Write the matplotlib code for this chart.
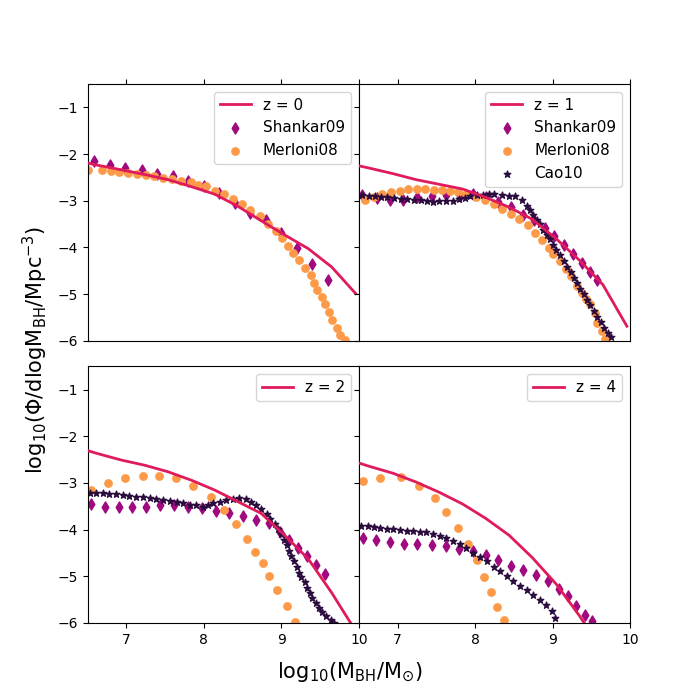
import matplotlib.pyplot as plt
import numpy as np

# model grid (log10 M_BH), spaced by log10(2)
model_x = [6.33, 6.63, 6.94, 7.24, 7.54, 7.84, 8.14, 8.44, 8.74, 9.05, 9.35, 9.65, 9.96]
model_z0 = [-2.13, -2.24, -2.34, -2.44, -2.55, -2.70, -2.86, -3.12, -3.43, -3.74, -4.03, -4.42, -4.99]
model_z1 = [-2.19, -2.30, -2.42, -2.55, -2.65, -2.75, -2.93, -3.14, -3.40, -3.82, -4.28, -4.80, -5.69]
model_z2 = [-2.22, -2.37, -2.51, -2.62, -2.76, -2.94, -3.15, -3.40, -3.65, -4.13, -4.63, -5.35, -6.17]
model_z4 = [-2.48, -2.64, -2.79, -2.98, -3.20, -3.45, -3.76, -4.12, -4.60, -5.17, -5.85, -6.60, -7.50]

# Shankar09
sh0_x = [6.59, 6.79, 6.99, 7.20, 7.40, 7.60, 7.80, 8.00, 8.20, 8.40, 8.60, 8.80, 9.00, 9.20, 9.40, 9.60]
sh0_y = [-2.16, -2.23, -2.29, -2.35, -2.42, -2.48, -2.57, -2.68, -2.84, -3.04, -3.26, -3.42, -3.69, -4.01, -4.35, -4.69]
sh1_x = [6.54, 6.73, 6.90, 7.07, 7.25, 7.44, 7.62, 7.80, 7.97, 8.14, 8.30, 8.46, 8.62, 8.76, 8.90,
         9.02, 9.15, 9.27, 9.38, 9.49, 9.58]
sh1_y = [-2.87, -2.94, -2.98, -2.98, -2.92, -2.89, -2.87, -2.91, -2.85, -2.93, -3.03, -3.14, -3.30, -3.42, -3.58,
         -3.76, -3.95, -4.15, -4.33, -4.53, -4.71]
sh2_x = [6.54, 6.72, 6.90, 7.07, 7.26, 7.44, 7.62, 7.80, 7.98, 8.16, 8.33, 8.51, 8.68, 8.84, 8.98,
         9.10, 9.22, 9.33, 9.45, 9.57]
sh2_y = [-3.45, -3.51, -3.52, -3.52, -3.51, -3.48, -3.48, -3.51, -3.54, -3.59, -3.65, -3.70, -3.79, -3.86, -4.04,
         -4.22, -4.40, -4.56, -4.75, -4.94]
sh4_x = [6.56, 6.72, 6.90, 7.09, 7.25, 7.45, 7.62, 7.79, 7.97, 8.14, 8.30, 8.46, 8.62, 8.79, 8.94,
         9.08, 9.20, 9.30, 9.42, 9.51]
sh4_y = [-4.18, -4.23, -4.27, -4.30, -4.30, -4.32, -4.35, -4.42, -4.45, -4.54, -4.65, -4.77, -4.87, -4.98, -5.11,
         -5.27, -5.43, -5.63, -5.82, -5.96]

# Merloni08
me0_x = [6.51, 6.69, 6.80, 6.91, 7.02, 7.14, 7.25, 7.36, 7.47, 7.59, 7.71, 7.83, 7.93, 8.03, 8.15,
         8.26, 8.38, 8.49, 8.60, 8.72, 8.83, 8.93, 9.01, 9.09, 9.15, 9.23, 9.31, 9.38, 9.42, 9.46,
         9.52, 9.57, 9.62, 9.66, 9.72, 9.76, 9.82]
me0_y = [-2.34, -2.35, -2.36, -2.39, -2.41, -2.43, -2.44, -2.48, -2.52, -2.54, -2.57, -2.61, -2.66, -2.69, -2.80,
         -2.86, -2.96, -3.07, -3.19, -3.33, -3.50, -3.64, -3.80, -3.98, -4.13, -4.28, -4.44, -4.60, -4.76, -4.92,
         -5.06, -5.21, -5.39, -5.56, -5.72, -5.88, -5.99]
me1_x = [6.58, 6.70, 6.80, 6.92, 7.03, 7.14, 7.25, 7.36, 7.47, 7.58, 7.68, 7.78, 7.88, 8.01, 8.13,
         8.24, 8.35, 8.46, 8.57, 8.69, 8.77, 8.86, 8.95, 9.01, 9.10, 9.17, 9.24, 9.31, 9.38, 9.43,
         9.48, 9.55, 9.58, 9.64, 9.68]
me1_y = [-2.99, -2.92, -2.85, -2.82, -2.79, -2.76, -2.74, -2.76, -2.78, -2.78, -2.80, -2.82, -2.85, -2.92, -2.99,
         -3.07, -3.17, -3.28, -3.39, -3.53, -3.69, -3.85, -4.01, -4.15, -4.30, -4.46, -4.62, -4.82, -4.97, -5.10,
         -5.22, -5.40, -5.63, -5.79, -5.96]
me2_x = [6.55, 6.76, 6.99, 7.21, 7.42, 7.64, 7.86, 8.09, 8.26, 8.42, 8.56, 8.66, 8.76, 8.84, 8.95, 9.07, 9.18]
me2_y = [-3.15, -3.01, -2.90, -2.86, -2.86, -2.90, -3.06, -3.29, -3.58, -3.88, -4.20, -4.47, -4.72, -5.00, -5.29,
         -5.64, -5.98]
me4_x = [6.56, 6.77, 7.04, 7.28, 7.48, 7.62, 7.78, 7.91, 8.03, 8.12, 8.21, 8.29, 8.38]
me4_y = [-2.96, -2.90, -2.88, -3.06, -3.33, -3.63, -3.97, -4.31, -4.65, -5.02, -5.34, -5.66, -5.94]

# Cao10
ca1_x = [6.54, 6.63, 6.71, 6.79, 6.87, 6.95, 7.04, 7.12, 7.21, 7.30, 7.38, 7.46, 7.54, 7.63, 7.71,
         7.79, 7.87, 7.94, 8.03, 8.10, 8.18, 8.24, 8.35, 8.44, 8.51, 8.60, 8.67, 8.71, 8.75, 8.80,
         8.84, 8.88, 8.93, 8.97, 9.01, 9.05, 9.10, 9.15, 9.19, 9.24, 9.28, 9.32, 9.36, 9.41, 9.45,
         9.49, 9.54, 9.58, 9.62, 9.67, 9.71, 9.75]
ca1_y = [-2.87, -2.89, -2.91, -2.92, -2.93, -2.94, -2.96, -2.96, -2.98, -2.99, -3.01, -3.03, -3.01, -3.01, -3.00,
         -2.96, -2.94, -2.91, -2.87, -2.87, -2.86, -2.85, -2.87, -2.89, -2.91, -2.99, -3.11, -3.19, -3.30, -3.41,
         -3.51, -3.62, -3.73, -3.83, -3.94, -4.05, -4.17, -4.30, -4.42, -4.53, -4.65, -4.77, -4.90, -5.01, -5.13,
         -5.24, -5.37, -5.49, -5.60, -5.72, -5.83, -5.93]
ca2_x = [6.53, 6.61, 6.70, 6.78, 6.87, 6.96, 7.04, 7.13, 7.21, 7.30, 7.39, 7.47, 7.56, 7.65, 7.73,
         7.82, 7.90, 7.99, 8.05, 8.12, 8.21, 8.29, 8.38, 8.46, 8.55, 8.61, 8.68, 8.74, 8.81, 8.86,
         8.92, 8.96, 9.00, 9.03, 9.07, 9.10, 9.13, 9.17, 9.20, 9.23, 9.26, 9.30, 9.33, 9.37, 9.40,
         9.45, 9.49, 9.53, 9.58, 9.64, 9.68]
ca2_y = [-3.22, -3.21, -3.22, -3.24, -3.24, -3.26, -3.27, -3.29, -3.31, -3.33, -3.35, -3.36, -3.38, -3.40, -3.43,
         -3.47, -3.48, -3.51, -3.48, -3.43, -3.40, -3.36, -3.35, -3.33, -3.35, -3.40, -3.47, -3.56, -3.66, -3.78,
         -3.88, -3.99, -4.09, -4.22, -4.32, -4.45, -4.56, -4.68, -4.79, -4.92, -5.02, -5.13, -5.25, -5.36, -5.46,
         -5.57, -5.68, -5.77, -5.86, -5.94, -6.01]
ca4_x = [6.53, 6.62, 6.70, 6.77, 6.86, 6.94, 7.03, 7.12, 7.20, 7.29, 7.37, 7.46, 7.55, 7.63, 7.72,
         7.80, 7.89, 7.98, 8.06, 8.15, 8.24, 8.32, 8.41, 8.49, 8.58, 8.67, 8.75, 8.84, 8.92, 8.99, 9.03]
ca4_y = [-3.92, -3.93, -3.95, -3.97, -3.99, -3.99, -4.00, -4.02, -4.03, -4.04, -4.06, -4.09, -4.13, -4.18, -4.24,
         -4.31, -4.40, -4.49, -4.59, -4.68, -4.79, -4.89, -5.00, -5.11, -5.20, -5.30, -5.39, -5.50, -5.61, -5.75, -5.89]

line_c = '#e01b5b'
sh_c = '#a00a80'
me_c = '#fd9a48'
ca_c = '#2b0c3e'

fig, axes = plt.subplots(2, 2, figsize=(7, 7), dpi=100, sharey=True)
plt.subplots_adjust(wspace=0, hspace=0.1)

panels = [
    (axes[0, 0], '0', model_z0, (sh0_x, sh0_y), (me0_x, me0_y), None),
    (axes[0, 1], '1', model_z1, (sh1_x, sh1_y), (me1_x, me1_y), (ca1_x, ca1_y)),
    (axes[1, 0], '2', model_z2, (sh2_x, sh2_y), (me2_x, me2_y), (ca2_x, ca2_y)),
    (axes[1, 1], '4', model_z4, (sh4_x, sh4_y), (me4_x, me4_y), (ca4_x, ca4_y)),
]

for i, (ax, z, model, sh, me, ca) in enumerate(panels):
    line, = ax.plot(model_x, model, color=line_c, lw=2, label='z = ' + z, zorder=3)
    s1 = ax.scatter(sh[0], sh[1], marker='d', s=32, color=sh_c, label='Shankar09', zorder=2)
    s2 = ax.scatter(me[0], me[1], marker='o', s=28, color=me_c, label='Merloni08', zorder=2)
    handles = [line]
    if i < 2:
        handles += [s1, s2]
    if ca is not None:
        s3 = ax.scatter(ca[0], ca[1], marker='*', s=24, color=ca_c, label='Cao10', zorder=2)
        if i < 2:
            handles.append(s3)
    ax.legend(handles=handles, loc='upper right', fontsize=11)
    ax.set_xlim(6.5, 10)
    ax.set_ylim(-6, -0.5)
    ax.set_xticks([7, 8, 9, 10])
    ax.set_yticks([-6, -5, -4, -3, -2, -1])
    if i < 2:
        ax.tick_params(axis='x', top=True, bottom=False, labeltop=False, labelbottom=False)

fig.text(0.05, 0.5, r'log$_{10}$($\Phi$/dlogM$_{\rm BH}$/Mpc$^{-3}$)', rotation=90,
         ha='center', va='center', fontsize=15)
fig.text(0.5, 0.04, r'log$_{10}$(M$_{\rm BH}$/M$_{\odot}$)', ha='center', va='center', fontsize=15)

plt.savefig('out.png')
